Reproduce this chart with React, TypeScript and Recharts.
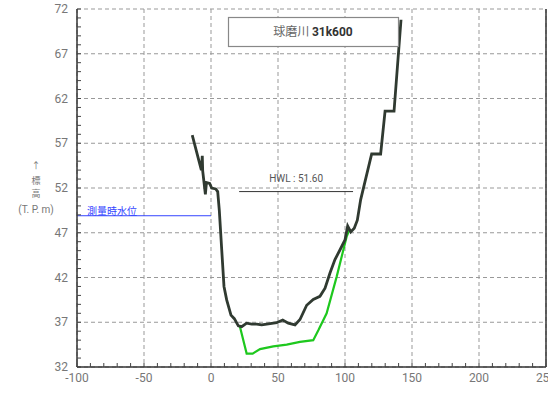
import React from 'react';
import { LineChart, Line, XAxis, YAxis, CartesianGrid, ReferenceLine } from 'recharts';

// surveyed ground profile (dark line)
const groundX = [-14.0, -7.2, -6.5, -6.2, -4.2, -3.4, -1.0, 0.5, 3.5, 5.0, 6.2, 8.0, 9.7, 11.7, 14.9, 17.4, 20.4, 22.9, 26.6, 30.4, 34.1, 37.8, 41.6, 49.0, 53.5, 57.7, 62.7, 66.4, 71.4, 76.3, 81.3, 85.1, 88.8, 92.5, 96.3, 100.0, 102.0, 104.3, 106.9, 109.2, 111.7, 119.9, 126.6, 129.9, 136.6, 141.8];
const groundElev = [57.9, 54.0, 55.6, 53.9, 51.3, 52.6, 52.5, 52.0, 51.9, 51.6, 49.5, 45.1, 41.0, 39.5, 37.8, 37.4, 36.6, 36.5, 36.9, 36.8, 36.8, 36.7, 36.8, 36.95, 37.25, 36.9, 36.7, 37.3, 38.9, 39.55, 39.9, 40.8, 42.5, 44.0, 45.1, 46.2, 47.75, 47.1, 47.5, 48.4, 50.7, 55.8, 55.8, 60.6, 60.6, 70.8];

// plan section (green line)
const planX = [21.6, 26.6, 31.1, 36.6, 46.5, 56.5, 66.4, 76.3, 80.1, 86.3, 93.8, 101.3, 103.2];
const planElev = [36.5, 33.5, 33.5, 34.0, 34.3, 34.5, 34.8, 35.0, 36.1, 38.0, 42.1, 46.6, 47.3];

const xMajor = [-100, -50, 0, 50, 100, 150, 200, 250];
const yMajor = [32, 37, 42, 47, 52, 57, 62, 67, 72];
const xMinor = Array.from({ length: 36 }, (_, i) => -100 + i * 10);
const yMinor = Array.from({ length: 41 }, (_, i) => 32 + i);

const HWL = 51.6;
const hwlRange = [21, 106];
const surveyWater = 48.9;
const surveyRange = [-100, 0];

const groundData = groundX.map((x, i) => ({ x, y: groundElev[i] }));
const planData = planX.map((x, i) => ({ x, y: planElev[i] }));

const tickFont = '"Liberation Sans Narrow", Roboto, sans-serif';
const jpFont = '"Noto Sans CJK JP", sans-serif';

const XTick = ({ x, y, payload }: any) => {
  const v = payload.value;
  const axisY = y - 6;
  const major = v % 50 === 0;
  return (
    <g>
      <line x1={x} x2={x} y1={axisY} y2={axisY - 4} stroke="#444" />
      {major && (
        <text x={x} y={y} dy="0.71em" textAnchor="middle" fontSize={12} fill="#777" fontFamily={tickFont}>
          {v}
        </text>
      )}
    </g>
  );
};

const YTick = ({ x, y, payload }: any) => {
  const v = payload.value;
  const axisX = x + 9;
  const major = (v - 32) % 5 === 0;
  return (
    <g>
      <line x1={axisX} x2={axisX + 4} y1={y} y2={y} stroke="#444" />
      {major && (
        <text x={x} y={y} dy="0.35em" textAnchor="end" fontSize={12} fill="#777" fontFamily={tickFont}>
          {v}
        </text>
      )}
    </g>
  );
};

export default function App() {
  return (
    <div style={{ position: 'absolute', left: 0, top: 0, width: 548, height: 404, background: '#fff' }}>
      <LineChart width={548} height={404} margin={{ top: 9, right: 2, left: 0, bottom: 0 }}>
        <CartesianGrid
          stroke="#999"
          strokeDasharray="4 3"
          horizontalValues={yMajor}
          verticalValues={xMajor}
        />
        <XAxis
          type="number"
          dataKey="x"
          domain={[-100, 250]}
          ticks={xMinor}
          interval={0}
          height={37}
          tickSize={0}
          tickMargin={6}
          tickLine={false}
          tick={<XTick />}
          axisLine={{ stroke: '#333', strokeWidth: 1.5 }}
          allowDataOverflow
        />
        <YAxis
          type="number"
          dataKey="y"
          domain={[32, 72]}
          ticks={yMinor}
          interval={0}
          width={77}
          tickSize={0}
          tickMargin={9}
          tickLine={false}
          tick={<YTick />}
          axisLine={{ stroke: '#333', strokeWidth: 1.5 }}
          allowDataOverflow
        />
        <ReferenceLine x={250} stroke="#333" strokeWidth={1.5} />
        <ReferenceLine
          segment={[{ x: surveyRange[0], y: surveyWater }, { x: surveyRange[1], y: surveyWater }]}
          stroke="#3344ff"
          strokeWidth={1}
          label={({ viewBox }: any) => (
            <text x={viewBox.x + 10} y={viewBox.y - 1} fontSize={10} fill="#3344ff" fontFamily={jpFont}>
              測量時水位
            </text>
          )}
        />
        <ReferenceLine
          segment={[{ x: hwlRange[0], y: HWL }, { x: hwlRange[1], y: HWL }]}
          stroke="#333"
          strokeWidth={1}
          label={({ viewBox }: any) => (
            <text
              x={viewBox.x + viewBox.width / 2}
              y={viewBox.y - 10}
              textAnchor="middle"
              fontSize={10}
              fill="#555"
              fontFamily={tickFont}
            >
              HWL : 51.60
            </text>
          )}
        />
        <Line
          data={planData}
          dataKey="y"
          type="linear"
          stroke="#1ec81e"
          strokeWidth={2.2}
          dot={false}
          isAnimationActive={false}
        />
        <Line
          data={groundData}
          dataKey="y"
          type="linear"
          stroke="#303a31"
          strokeWidth={2.8}
          dot={false}
          isAnimationActive={false}
        />
      </LineChart>
      <svg
        width={548}
        height={404}
        style={{ position: 'absolute', left: 0, top: 0, pointerEvents: 'none' }}
      >
        <rect x={228.5} y={17.5} width={170} height={29} fill="#fff" stroke="#888" strokeWidth={1.2} />
        <text x={313} y={32} dy="0.35em" textAnchor="middle" fontSize={12} fontFamily={jpFont}>
          <tspan fill="#666">球磨川 </tspan>
          <tspan fill="#333" fontWeight="bold" fontFamily="Roboto, sans-serif">31k600</tspan>
        </text>
        <text x={36} y={166} dy="0.35em" textAnchor="middle" fontSize={9} fill="#777" fontFamily={jpFont}>↑</text>
        <text x={36} y={181} dy="0.35em" textAnchor="middle" fontSize={9} fill="#777" fontFamily={jpFont}>標</text>
        <text x={36} y={194} dy="0.35em" textAnchor="middle" fontSize={9} fill="#777" fontFamily={jpFont}>高</text>
        <text x={36} y={209} dy="0.35em" textAnchor="middle" fontSize={10} fill="#777" fontFamily={tickFont}>(T. P. m)</text>
      </svg>
    </div>
  );
}
